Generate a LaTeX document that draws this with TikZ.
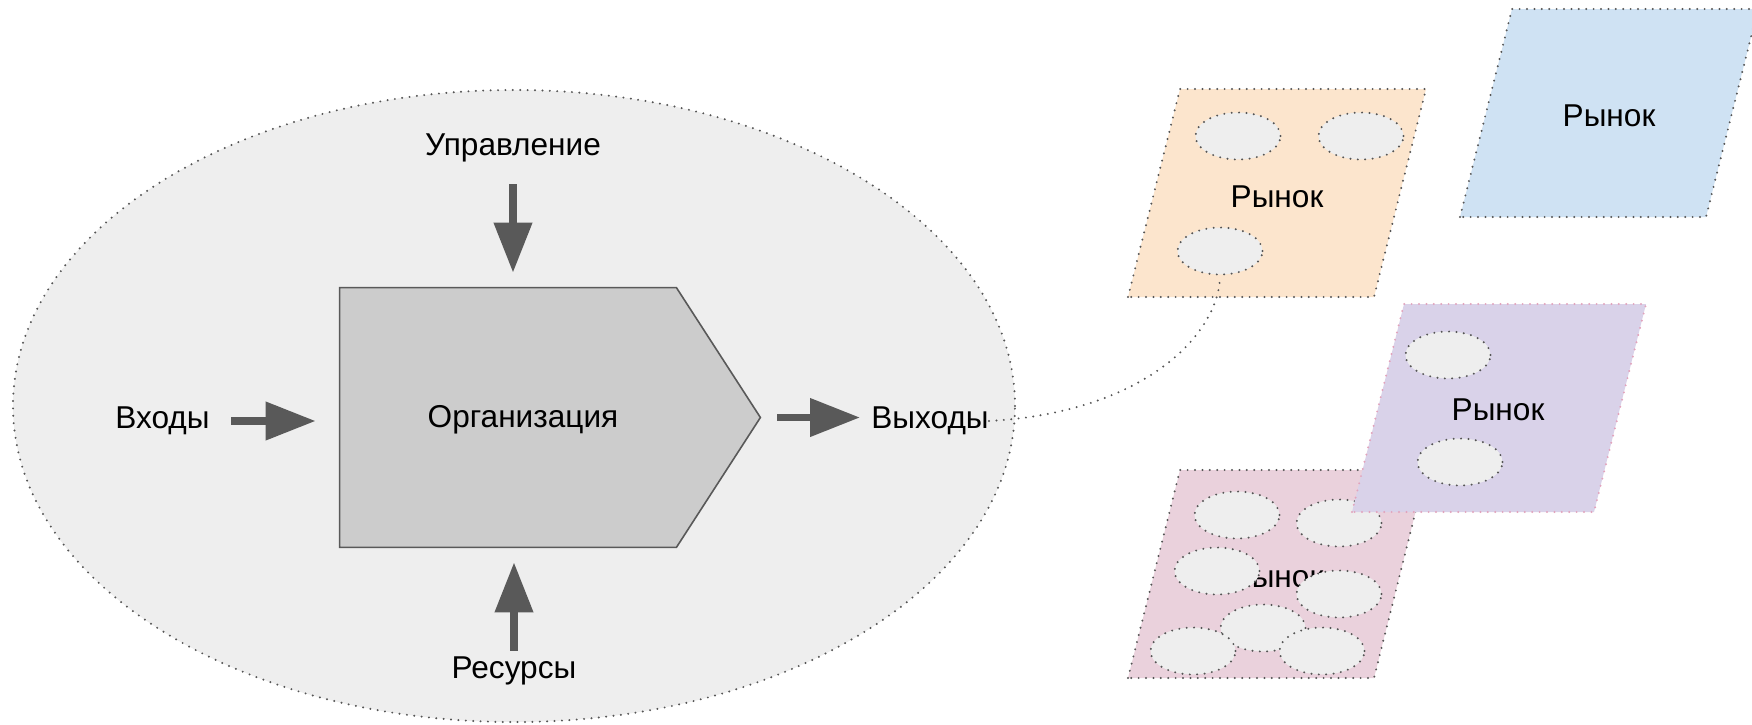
\documentclass[tikz,border=0pt]{standalone}
\usepackage{fontspec}
\setmainfont{Liberation Sans}
\usetikzlibrary{arrows.meta,shapes.geometric}
\definecolor{sysfill}{HTML}{EEEEEE}
\definecolor{orgfill}{HTML}{CCCCCC}
\definecolor{darkline}{HTML}{595959}
\definecolor{dotc}{HTML}{555555}
\definecolor{mktorange}{HTML}{FCE5CD}
\definecolor{mktblue}{HTML}{CFE2F3}
\definecolor{mktpurple}{HTML}{D9D2E9}
\definecolor{mktpink}{HTML}{EAD1DC}
\definecolor{pinkdot}{HTML}{E2A3BC}

\begin{document}
\begin{tikzpicture}[x=0.5pt,y=-0.5pt,
  lbl/.style={font=\fontsize{15.8pt}{18pt}\selectfont, inner sep=0pt, text=black},
  dots/.style={draw=dotc, line width=1.1pt, dash pattern=on 0pt off 3.7pt, line cap=round},
  blockarrow/.style={draw=darkline, line width=3.7pt,
    -{Triangle[length=25pt,width=18.5pt]}},
  orgshape/.style={draw=darkline, fill=orgfill, line width=0.8pt, line join=miter},
  blob/.style={ellipse, dots, fill=sysfill, minimum width=42.5pt,
    minimum height=23.5pt, inner sep=0pt},
  mkt/.style={dots}
]
\useasboundingbox (0,0) rectangle (1752,724);

% the system boundary
\node[ellipse, dots, fill=sysfill, minimum width=501pt, minimum height=316pt,
  inner sep=0pt] (sys) at (514,406) {};

% the organisation block (pentagon)
\node[minimum width=210pt, minimum height=129.5pt, inner sep=0pt] (org) at (550,417.5) {};
\draw[orgshape] (org.north west) -- ([xshift=-42pt]org.north east) -- (org.east)
  -- ([xshift=-42pt]org.south east) -- (org.south west) -- cycle;
\node[lbl] (orgtext) at (523,420) {Организация};

% labels around the block
\node[lbl, anchor=east] (inp) at (210,421) {Входы};
\node[lbl, anchor=west] (outp) at (871,421) {Выходы};
\node[lbl] (ctl) at (513,148) {Управление};
\node[lbl] (res) at (514,671) {Ресурсы};

% block arrows
\draw[blockarrow, shorten <=10.5pt, shorten >=12pt] (inp.east) -- (inp.east -| org.west);
\draw[blockarrow, shorten <=8.5pt, shorten >=5.5pt] (org.east) -- (org.east -| outp.west);
\draw[blockarrow, shorten <=10.8pt, shorten >=7.5pt] (ctl.south) -- (ctl.south |- org.north);
\draw[blockarrow, shorten <=2.8pt, shorten >=7.5pt] (res.north) -- (res.north |- org.south);

% market: orange
\path[mkt, fill=mktorange] (1128,297) -- (1180,89) -- (1426,89) -- (1374,297) -- cycle;
\node[blob] (oe1) at (1238,136) {};
\node[blob] (oe2) at (1361,136) {};
\node[blob] (oe3) at (1220,251) {};
\node[lbl] (mo) at (1277,197) {Рынок};

% market: blue
\path[mkt, fill=mktblue] (1460,217) -- (1512,9) -- (1758,9) -- (1706,217) -- cycle;
\node[lbl] (mb) at (1609,116) {Рынок};

% market: pink
\path[mkt, fill=mktpink] (1128,678) -- (1180,470) -- (1426,470) -- (1374,678) -- cycle;
\node[lbl] (mp) at (1277,577) {Рынок};
\node[blob] (pe1) at (1237,515) {};
\node[blob] (pe2) at (1339,523) {};
\node[blob] (pe3) at (1217,571) {};
\node[blob] (pe4) at (1339,594) {};
\node[blob] (pe5) at (1263,628) {};
\node[blob] (pe6) at (1193,651) {};
\node[blob] (pe7) at (1322,651) {};

% market: purple
\path[mkt, draw=pinkdot, fill=mktpurple] (1352,512) -- (1404,304) -- (1646,304) -- (1594,512) -- cycle;
\node[blob] (ue1) at (1448,355) {};
\node[blob] (ue2) at (1460,462) {};
\node[lbl] (mu) at (1498,410) {Рынок};

% link from the outputs to one market segment
\draw[dots] (outp.east) .. controls (1150,412) and (1220,330) .. (oe3.south);
\end{tikzpicture}
\end{document}
